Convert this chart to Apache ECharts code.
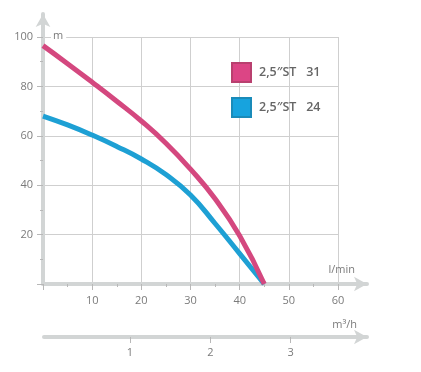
<!DOCTYPE html>
<html><head><meta charset="utf-8">
<script src="https://cdn.jsdelivr.net/npm/echarts@6/dist/echarts.min.js"></script>
<style>html,body{margin:0;padding:0;background:#fff}#c{width:421px;height:372px}</style>
</head><body><div id="c"></div>
<script>
const flowLmin = [0, 5, 10, 15, 20, 25, 30, 35, 40, 45];
const headST31 = [96.5, 89.2, 81.7, 74, 66, 57, 46.5, 34.5, 19.5, 0];
const headST24 = [68, 64.4, 60.3, 55.7, 50.6, 44.3, 36, 24.5, 12.3, 0];
const seriesNames = ['2,5″ST   31', '2,5″ST   24'];
const m3hTicks = [1, 2, 3];

const FONT = '"Open Sans", "DejaVu Sans", sans-serif';
const GRID_C = '#cfcfcf';
const AXIS_C = '#d2d5d5';
const LABEL_C = '#7b7b7b';

const chart = echarts.init(document.getElementById('c'));
chart.setOption({
  animation: false,
  textStyle: { fontFamily: FONT },
  grid: [
    { left: 43, top: 37, right: 83, bottom: 88 },
    { left: 43, top: 14, right: 54, bottom: 88 },
    { left: 44, top: 320, right: 54, bottom: 35 }
  ],
  xAxis: [
    { type: 'value', gridIndex: 0, min: 0, max: 60, interval: 10,
      axisLine: { show: false },
      axisTick: { show: true, length: 6, lineStyle: { color: '#b8b8b8' } },
      minorTick: { show: true, splitNumber: 2, length: 3, lineStyle: { color: '#b8b8b8' } },
      splitLine: { show: true, lineStyle: { color: GRID_C, width: 1 } },
      axisLabel: { margin: 11, fontSize: 11, color: LABEL_C, showMinLabel: false, fontFamily: FONT } },
    { type: 'value', gridIndex: 1, min: 0, max: 1,
      axisLine: { show: true, symbol: ['none', 'arrow'], symbolSize: [11, 13], lineStyle: { color: AXIS_C, width: 4 } },
      axisTick: { show: false }, axisLabel: { show: false }, splitLine: { show: false } },
    { type: 'value', gridIndex: 2, min: -0.07, max: 3.95,
      axisLine: { show: true, symbol: ['none', 'arrow'], symbolSize: [11, 13], lineStyle: { color: AXIS_C, width: 4 } },
      axisTick: { show: true, length: 6, customValues: m3hTicks, lineStyle: { color: '#b8b8b8' } },
      axisLabel: { show: true, margin: 10, fontSize: 11, color: LABEL_C, customValues: m3hTicks, fontFamily: FONT },
      splitLine: { show: false } }
  ],
  yAxis: [
    { type: 'value', gridIndex: 0, min: 0, max: 100, interval: 20,
      axisLine: { show: false },
      axisTick: { show: true, length: 6, lineStyle: { color: '#b8b8b8' } },
      minorTick: { show: true, splitNumber: 2, length: 3, lineStyle: { color: '#b8b8b8' } },
      splitLine: { show: true, lineStyle: { color: GRID_C, width: 1 } },
      axisLabel: { margin: 10, fontSize: 11, color: LABEL_C, showMinLabel: false, fontFamily: FONT } },
    { type: 'value', gridIndex: 1, min: 0, max: 1,
      axisLine: { show: true, symbol: ['none', 'arrow'], symbolSize: [11, 13], lineStyle: { color: AXIS_C, width: 4 } },
      axisTick: { show: false }, axisLabel: { show: false }, splitLine: { show: false } },
    { type: 'value', gridIndex: 2, min: 0, max: 1, show: false }
  ],
  legend: {
    orient: 'vertical', left: 231, top: 62, padding: 0, itemWidth: 19, itemHeight: 19, itemGap: 14,
    icon: 'rect',
    textStyle: { fontSize: 12.5, color: '#666', fontWeight: 600, fontFamily: FONT, padding: [0, 0, 0, 3] },
    data: seriesNames
  },
  series: [
    { name: seriesNames[0], type: 'line', xAxisIndex: 0, yAxisIndex: 0, smooth: 0.5, symbol: 'none',
      lineStyle: { color: '#d4487f', width: 5 }, itemStyle: { color: '#dc4585', borderColor: '#b9406f', borderWidth: 1 },
      z: 3,
      data: flowLmin.map((x, i) => [x, headST31[i]]) },
    { name: seriesNames[1], type: 'line', xAxisIndex: 0, yAxisIndex: 0, smooth: 0.5, symbol: 'none',
      lineStyle: { color: '#1ea0d4', width: 5 }, itemStyle: { color: '#17a3de', borderColor: '#1a8bb9', borderWidth: 1 },
      z: 2,
      data: flowLmin.map((x, i) => [x, headST24[i]]) }
  ],
  graphic: [
    { type: 'text', left: 51, top: 30, z: 10,
      style: { text: 'm', fontSize: 11, fill: LABEL_C, fontFamily: FONT, backgroundColor: '#fff', padding: [0, 3, 0, 2] } },
    { type: 'text', right: 66, top: 264, z: 10,
      style: { text: 'l/min', fontSize: 11, fill: LABEL_C, fontFamily: FONT } },
    { type: 'text', right: 64, top: 319, z: 10,
      style: { text: 'm³/h', fontSize: 11, fill: LABEL_C, fontFamily: FONT } }
  ]
});
</script>
</body></html>
